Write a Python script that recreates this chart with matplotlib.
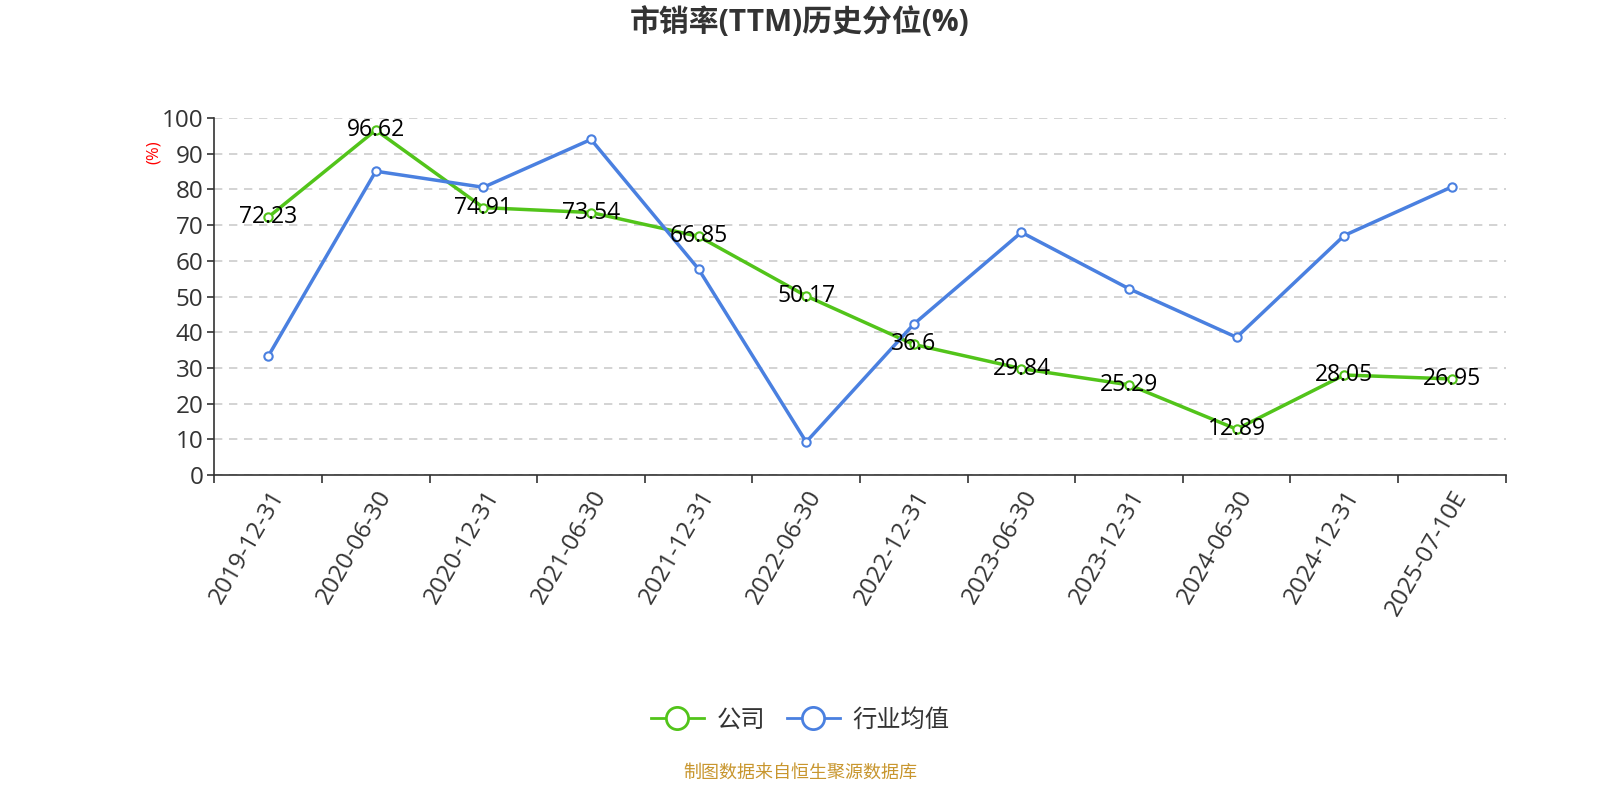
import matplotlib.pyplot as plt
import numpy as np
from matplotlib.lines import Line2D

plt.rcParams['font.family'] = ['Open Sans', 'Noto Sans CJK SC', 'DejaVu Sans']

# 数据
dates = ["2019-12-31", "2020-06-30", "2020-12-31", "2021-06-30", "2021-12-31", "2022-06-30",
         "2022-12-31", "2023-06-30", "2023-12-31", "2024-06-30", "2024-12-31", "2025-07-10E"]
company = [72.23, 96.62, 74.91, 73.54, 66.85, 50.17, 36.6, 29.84, 25.29, 12.89, 28.05, 26.95]
industry = [33.3, 85.1, 80.6, 94.0, 57.7, 9.3, 42.3, 68.0, 52.2, 38.6, 67.1, 80.7]

GREEN = '#52C41A'
BLUE = '#4A80E0'
TXT = '#333333'

fig = plt.figure(figsize=(16, 8), dpi=100)
ax = fig.add_axes([0.134, 0.406, 0.807, 0.4465])

x = np.arange(len(dates))
ax.plot(x, company, color=GREEN, lw=2.5, marker='o', ms=6, mfc='white',
        mec=GREEN, mew=1.5, zorder=3)
ax.plot(x, industry, color=BLUE, lw=2.5, marker='o', ms=6, mfc='white',
        mec=BLUE, mew=1.5, zorder=3)

for xi, v in zip(x, company):
    ax.text(xi, v, f"{v:g}", ha='center', va='center', fontsize=16.5,
            color='black', zorder=4)

ax.set_xlim(-0.5, len(dates) - 0.5)
ax.set_ylim(0, 100)
ax.set_yticks(range(0, 101, 10))
ax.tick_params(axis='y', labelsize=17.5, colors=TXT, length=5, width=1.2, pad=3)
ax.grid(axis='y', ls=(0, (5, 4)), color='#cccccc', lw=1.2)

# 刻度线在区间边界，标签在中心
ax.set_xticks(np.arange(-0.5, len(dates), 1.0))
ax.set_xticklabels([])
ax.tick_params(axis='x', which='major', length=6, width=1.2, color=TXT)
ax.set_xticks(x, minor=True)
ax.set_xticklabels(dates, minor=True, rotation=60, ha='right',
                   rotation_mode='anchor', fontsize=17.5, color=TXT)
ax.tick_params(axis='x', which='minor', length=0, pad=8)

for s in ['top', 'right']:
    ax.spines[s].set_visible(False)
for s in ['left', 'bottom']:
    ax.spines[s].set_color(TXT)
    ax.spines[s].set_linewidth(1.2)

fig.text(0.096, 0.81, "(%)", rotation=90, color='red', fontsize=12,
         ha='center', va='center')

fig.text(0.5, 0.972, "市销率(TTM)历史分位(%)", ha='center', va='center',
         fontsize=21.5, fontweight='bold', color=TXT)

handles = [
    Line2D([0], [0], color=GREEN, lw=2, marker='o', ms=16, mfc='white', mec=GREEN, mew=2),
    Line2D([0], [0], color=BLUE, lw=2, marker='o', ms=16, mfc='white', mec=BLUE, mew=2),
]
fig.legend(handles, ["公司", "行业均值"], loc='center', bbox_to_anchor=(0.5, 0.099),
           ncol=2, frameon=False, fontsize=17.5, handlelength=2.2, columnspacing=0.9,
           handletextpad=0.5, labelcolor=TXT)

fig.text(0.5, 0.034, "制图数据来自恒生聚源数据库", ha='center', va='center',
         fontsize=13, color='#C8962E')

fig.savefig('out.png', dpi=100)
